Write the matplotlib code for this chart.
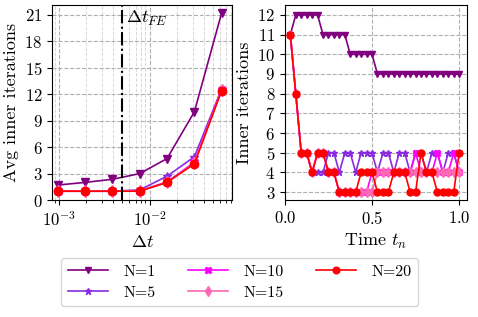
import numpy as np
import matplotlib
matplotlib.use("Agg")
import matplotlib.pyplot as plt

plt.rcParams['font.family'] = 'serif'
plt.rcParams['font.serif'] = ['cmr10', 'DejaVu Serif']
plt.rcParams['mathtext.fontset'] = 'cm'
plt.rcParams['axes.formatter.use_mathtext'] = True
plt.rcParams['axes.unicode_minus'] = False

# left panel: average inner iterations vs time step
dt = [0.000977, 0.00195, 0.0039, 0.0078, 0.0156, 0.03125, 0.0625]
dt_fe = 0.005
avg_n1 = [1.7, 2.0, 2.35, 3.0, 4.7, 10.0, 21.2]
avg_n5 = [1.0, 1.0, 1.0, 1.15, 2.7, 4.9, 12.6]
avg_n10 = [1.0, 1.0, 1.0, 1.05, 2.05, 4.3, 12.5]
avg_n15 = [1.0, 1.0, 1.0, 1.05, 2.0, 4.2, 12.45]
avg_n20 = [1.0, 1.0, 1.0, 1.0, 2.0, 4.1, 12.4]

# right panel: inner iterations per time step
t_n = np.arange(1, 33) / 32
it_n1 = [11, 12, 12, 12, 12, 12, 11, 11, 11, 11, 11, 10, 10, 10, 10, 10,
         9, 9, 9, 9, 9, 9, 9, 9, 9, 9, 9, 9, 9, 9, 9, 9]
it_n5 = [11, 8, 5, 5, 4, 4, 4, 5, 5, 4, 5, 5, 4, 5, 5, 5,
         4, 5, 5, 4, 5, 5, 4, 5, 5, 4, 5, 5, 4, 5, 5, 4]
it_n10 = [11, 8, 5, 5, 4, 5, 5, 4, 4, 3, 3, 3, 3, 3, 3, 4,
          4, 4, 4, 4, 4, 4, 4, 5, 4, 4, 4, 5, 4, 4, 5, 4]
it_n15 = [11, 8, 5, 5, 4, 5, 5, 4, 4, 3, 3, 3, 3, 3, 3, 3,
          4, 4, 4, 4, 4, 4, 4, 4, 4, 4, 4, 4, 4, 4, 4, 4]
it_n20 = [11, 8, 5, 5, 4, 5, 5, 4, 4, 3, 3, 3, 3, 4, 4, 4,
          3, 3, 3, 4, 4, 4, 3, 3, 5, 4, 4, 3, 3, 3, 3, 5]

labels = ['N=1', 'N=5', 'N=10', 'N=15', 'N=20']
colors = ['purple', 'blueviolet', 'magenta', 'hotpink', 'red']
markers = ['v', '*', 'X', 'd', 'o']

fig = plt.figure(figsize=(4.78, 3.17), dpi=100)
ax1 = fig.add_axes([0.109, 0.369, 0.377, 0.615])
ax2 = fig.add_axes([0.596, 0.369, 0.381, 0.615])

left = [avg_n1, avg_n5, avg_n10, avg_n15, avg_n20]
right = [it_n1, it_n5, it_n10, it_n15, it_n20]
handles = []
for y, c, m, lab in zip(left, colors, markers, labels):
    h, = ax1.plot(dt, y, color=c, marker=m, markersize=6, lw=1.2, label=lab)
    handles.append(h)
for y, c, m in zip(right, colors, markers):
    ax2.plot(t_n, y, color=c, marker=m, markersize=5, lw=1.2)

ax1.axvline(dt_fe, color='black', ls='-.', lw=1.5)
ax1.text(dt_fe * 1.1, 20.6, r'$\Delta t_{FE}$', fontsize=13, va='center')
ax1.set_xscale('log')
ax1.set_xlim(0.00084, 0.082)
ax1.set_ylim(0, 22.1)
ax1.set_yticks(np.arange(0, 22, 3))
ax1.set_xlabel(r'$\Delta t$', fontsize=13)
ax1.set_ylabel('Avg inner iterations', fontsize=13)
ax1.grid(True, which='major', ls='--', color='#b0b0b0', lw=0.8)
ax1.grid(True, which='minor', axis='x', ls='--', color='#d8d8d8', lw=0.7)

ax2.set_xlim(0, 1.045)
ax2.set_ylim(2.6, 12.5)
ax2.set_yticks(np.arange(3, 13))
ax2.set_xticks([0.0, 0.5, 1.0])
ax2.set_xlabel(r'Time $t_n$', fontsize=13)
ax2.set_ylabel('Inner iterations', fontsize=13)
ax2.grid(True, ls='--', color='#b0b0b0', lw=0.8)

for ax in (ax1, ax2):
    ax.tick_params(labelsize=12)

leg = fig.legend(handles=handles, loc='lower center', bbox_to_anchor=(0.502, 0.008),
                 ncol=3, fontsize=11.5, handlelength=2.5, columnspacing=2.0,
                 handletextpad=1.0, labelspacing=0.45, borderpad=0.4,
                 markerscale=0.8)

fig.savefig('out.png', dpi=100)
